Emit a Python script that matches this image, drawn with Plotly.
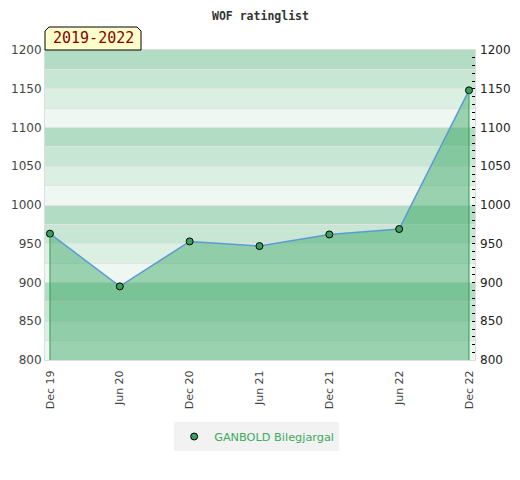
import plotly.graph_objects as go

# rating history, half-yearly lists
PERIODS = ["Dec 19", "Jun 20", "Dec 20", "Jun 21", "Dec 21", "Jun 22", "Dec 22"]
RATINGS = [963, 895, 953, 947, 962, 969, 1148]
PLAYER = "GANBOLD Bilegjargal"
SPAN_LABEL = "2019-2022"
TITLE = "WOF ratinglist"

Y_MIN, Y_MAX = 800, 1200
BAND_COLORS = ["#b3dcc4", "#c7e6d3", "#dcefe3", "#eef7f1"]  # dark -> light, per 100 pts

LINE_BLUE = "#5b9bd5"
DOT_GREEN = "#3a9e5f"
FILL_GREEN = "rgba(50,165,95,0.45)"

# page body has an 8px margin, so the figure is a bit smaller than the window
W, H = 512, 472
ML, MR, MT, MB = 37, 45, 42, 120
PW, PH = W - ML - MR, H - MT - MB

# light/dark striped background, 25 pts per stripe
shapes = []
for lo in range(Y_MIN, Y_MAX, 25):
    idx = 3 - ((lo - Y_MIN) // 25) % 4
    shapes.append(dict(type="rect", xref="paper", yref="y", x0=0, x1=1, y0=lo, y1=lo + 25,
                       fillcolor=BAND_COLORS[idx], line_width=0, layer="below"))

# the little tab with clipped top corners
tab_w, tab_h, cut = 96 / PW, 23 / PH, 4
dx, dy = cut / PW, cut / PH
shapes.append(dict(type="path", xref="paper", yref="paper",
                   path=(f"M 0,1 L 0,{1 + tab_h - dy} L {dx},{1 + tab_h} L {tab_w - dx},{1 + tab_h} "
                         f"L {tab_w},{1 + tab_h - dy} L {tab_w},1 Z"),
                   fillcolor="#ffffcc", line=dict(color="black", width=1), layer="above"))

fig = go.Figure()

# vertical edges of the filled area
fig.add_trace(go.Scatter(x=[PERIODS[0], PERIODS[0], None, PERIODS[-1], PERIODS[-1]],
                         y=[RATINGS[0], Y_MIN, None, RATINGS[-1], Y_MIN],
                         mode="lines", line=dict(color="#2e9e4f", width=1),
                         yaxis="y2", showlegend=False, hoverinfo="skip"))

fig.add_trace(go.Scatter(x=PERIODS, y=RATINGS, mode="lines+markers", fill="tozeroy",
                         fillcolor=FILL_GREEN, line=dict(color=LINE_BLUE, width=1.5),
                         marker=dict(size=7, color=DOT_GREEN, line=dict(color="black", width=1)),
                         name=PLAYER, showlegend=False))

# legend entry: dot only
fig.add_trace(go.Scatter(x=[None], y=[None], mode="markers", name=PLAYER,
                         marker=dict(size=7, color=DOT_GREEN, line=dict(color="black", width=1))))

annotations = [
    dict(text=f"<b>{TITLE}</b>", xref="paper", yref="paper", x=0.5, y=1 + MT / PH,
         xanchor="center", yanchor="top", showarrow=False, borderpad=0,
         font=dict(family="DejaVu Sans Mono", size=11.5, color="#333")),
    dict(text=SPAN_LABEL, xref="paper", yref="paper", x=tab_w / 2, y=1 + tab_h / 2,
         showarrow=False, xanchor="center", yanchor="middle",
         font=dict(family="DejaVu Sans Mono", size=15, color="#8b0000")),
]

fig.update_layout(
    width=W, height=H,
    margin=dict(l=ML, r=MR, t=MT, b=MB, autoexpand=False),
    paper_bgcolor="white", plot_bgcolor="white",
    font=dict(family="DejaVu Sans", size=12, color="#444"),
    shapes=shapes,
    annotations=annotations,
    xaxis=dict(type="category", categoryorder="array", categoryarray=PERIODS,
               range=[-0.071, 6.086], tickangle=-90, showgrid=False, automargin=False,
               showline=True, mirror=True, linecolor="#dddddd", linewidth=1,
               ticks="outside", ticklen=5, tickcolor="rgba(0,0,0,0)",
               tickfont=dict(size=11, color="#444"), zeroline=False),
    yaxis=dict(range=[Y_MIN, Y_MAX], dtick=50, showgrid=True, gridcolor="#e2e2e2", automargin=False,
               minor=dict(dtick=25, showgrid=True, gridcolor="#e2e2e2"),
               showline=True, mirror=True, linecolor="#dddddd", linewidth=1,
               zeroline=False, tickfont=dict(size=12, color="#444")),
    yaxis2=dict(overlaying="y", side="right", matches="y", range=[Y_MIN, Y_MAX], dtick=50,
                ticks="inside", ticklen=3, tickcolor="black", showgrid=False, zeroline=False,
                automargin=False, ticklabelstandoff=4,
                minor=dict(dtick=10, ticks="inside", ticklen=3, tickcolor="black"),
                tickfont=dict(size=12, color="#222")),
    legend=dict(orientation="h", x=(ML + PW / 2) / W, xanchor="center", y=-0.2, yanchor="top",
                itemwidth=30, bgcolor="#f2f2f2", font=dict(size=11.3, color="#3aaa5e")),
    hovermode="closest",
)

fig.write_html("out.html")
